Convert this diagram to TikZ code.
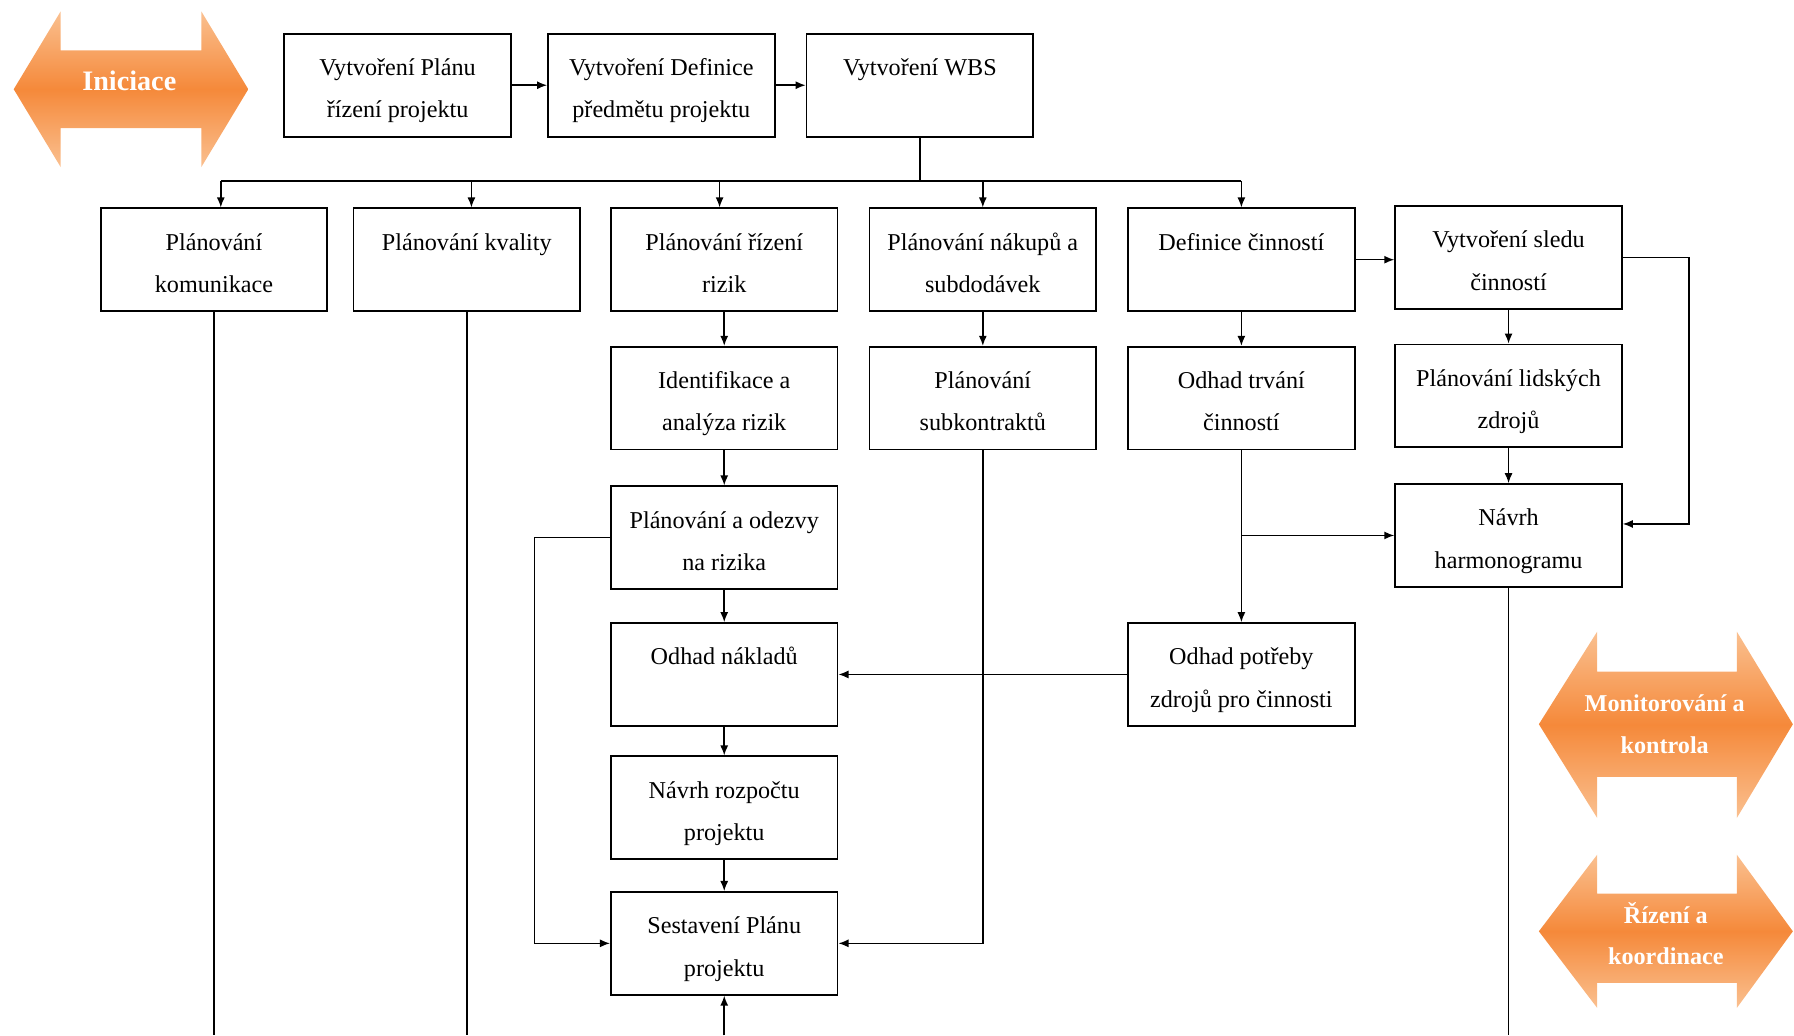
\documentclass[tikz,border=0pt]{standalone}
\usepackage{fontspec}
\setmainfont{Liberation Serif}
\usetikzlibrary{arrows.meta}
\definecolor{orangeL}{HTML}{FAC090}
\definecolor{orangeM}{HTML}{F5893A}
\tikzset{
    box/.style={draw, line width=0.9pt, minimum width=112.5pt, minimum height=51pt, inner sep=2pt, align=center, font=\fontsize{12}{21}\selectfont, text height=35.5pt, text depth=3pt},
    arrowfill/.style={top color=orangeL, bottom color=orangeL, middle color=orangeM},
    arrowtext/.style={text=white, align=center, font=\bfseries\fontsize{12}{20.5}\selectfont}
}
\begin{document}
\begin{tikzpicture}[>={Latex[length=5pt,width=4pt]}, x=0.568pt, y=-0.568pt, line width=0.75pt]
\useasboundingbox (0,0) rectangle (1568,905);

\path[arrowfill] (12,78) -- (53,10) -- (53,44) -- (176,44) -- (176,10) -- (217,78) -- (176,146) -- (176,112) -- (53,112) -- (53,146) -- cycle;
\path[arrowfill] (1345,633) -- (1396,552) -- (1396,587) -- (1518,587) -- (1518,552) -- (1567,633) -- (1518,715) -- (1518,679) -- (1396,679) -- (1396,715) -- cycle;
\path[arrowfill] (1345,814) -- (1396,747) -- (1396,781) -- (1518,781) -- (1518,747) -- (1567,814) -- (1518,881) -- (1518,859) -- (1396,859) -- (1396,881) -- cycle;
\node[arrowtext, font=\bfseries\fontsize{14}{20}\selectfont] (ini) at (113,71) {Iniciace};
\node[arrowtext] (mon) at (1455,633) {Monitorování a\\kontrola};
\node[arrowtext] (koord) at (1456,816) {Řízení a\\koordinace};

\node[box] (plan) at (347.5,74.5) {Vytvoření Plánu\\řízení projektu};
\node[box] (defp) at (578,74.5) {Vytvoření Definice\\předmětu projektu};
\node[box] (wbs) at (804,74.5) {Vytvoření WBS\\\mbox{}};
\node[box] (kom) at (187,227) {Plánování\\komunikace};
\node[box] (kval) at (408,227) {Plánování kvality\\\mbox{}};
\node[box] (riz) at (633,227) {Plánování řízení\\rizik};
\node[box] (nak) at (859,227) {Plánování nákupů a\\subdodávek};
\node[box] (defc) at (1085,227) {Definice činností\\\mbox{}};
\node[box] (sled) at (1318.5,225) {Vytvoření sledu\\činností};
\node[box] (ident) at (633,348) {Identifikace a\\analýza rizik};
\node[box] (subk) at (859,348) {Plánování\\subkontraktů};
\node[box] (trv) at (1085,348) {Odhad trvání\\činností};
\node[box] (lids) at (1318.5,346) {Plánování lidských\\zdrojů};
\node[box] (odez) at (633,470) {Plánování a odezvy\\na rizika};
\node[box] (harm) at (1318.5,468) {Návrh\\harmonogramu};
\node[box] (nakl) at (633,589.5) {Odhad nákladů\\\mbox{}};
\node[box] (potr) at (1085,589.5) {Odhad potřeby\\zdrojů pro činnosti};
\node[box] (rozp) at (633,706) {Návrh rozpočtu\\projektu};
\node[box] (sest) at (633,824.5) {Sestavení Plánu\\projektu};

\draw[->] (plan) -- (defp);
\draw[->] (defp) -- (wbs);
\coordinate (bus) at (808,158);
\draw (wbs.south) -- (wbs.south |- bus);
\draw ([xshift=3.4pt]kom.north |- bus) -- (defc.north |- bus);
\foreach \n/\s in {kom/3.4,kval/2.3,riz/-2.3,nak/0,defc/0}
{
    \draw[->] ([xshift=\s pt]\n.north |- bus) -- ([xshift=\s pt]\n.north);
}
\draw[->] (riz) -- (ident);
\draw[->] (ident) -- (odez);
\draw[->] (odez) -- (nakl);
\draw[->] (nakl) -- (rozp);
\draw[->] (rozp) -- (sest);
\draw[->] (nak) -- (subk);
\draw[->] (defc) -- (trv);
\draw[->] (trv) -- (potr);
\draw[->] (sled) -- (lids);
\draw[->] (lids) -- (harm);
\draw[->] (defc.east) -- (defc.east -| sled.west);
\draw[->] (sled.east) -- ++(58,0) |- ([yshift=5.7pt]harm.east);
\draw[->] (trv.south |- harm.west) -- (harm.west);
\draw[->] (potr) -- (nakl);
\draw[->] (odez.west) -- ++(-66,0) |- (sest.west);
\draw[->] (subk.south) |- (sest.east);

\coordinate (bot) at (0,905);
\foreach \n in {kom,kval,harm}
{
    \draw (\n.south) -- (\n.south |- bot);
}
\draw[->] (sest.south |- bot) -- (sest.south);

\end{tikzpicture}
\end{document}
